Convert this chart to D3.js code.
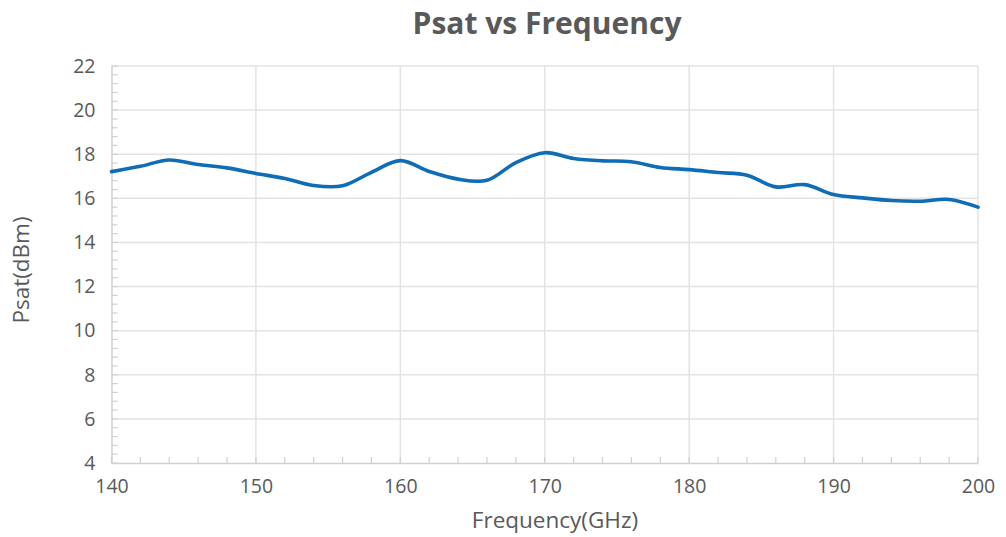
<!DOCTYPE html>
<html><head><meta charset="utf-8">
<script src="https://cdn.jsdelivr.net/npm/d3@7"></script>
<style>body{margin:0;background:#fff}svg{display:block}</style>
</head><body>
<svg id="c" width="1006" height="537"></svg>
<script>
const freqs = [140,142,144,146,148,150,152,154,156,158,160,162,164,166,168,170,172,174,176,178,180,182,184,186,188,190,192,194,196,198,200];
const psat  = [17.21,17.45,17.74,17.53,17.38,17.13,16.90,16.58,16.57,17.18,17.71,17.22,16.87,16.82,17.62,18.07,17.81,17.70,17.66,17.40,17.30,17.17,17.05,16.52,16.62,16.17,16.02,15.90,15.87,15.95,15.60];
const xTicks = [140,150,160,170,180,190,200];
const yTicks = [4,6,8,10,12,14,16,18,20,22];
const title = "Psat vs Frequency";
const xTitle = "Frequency(GHz)";
const yTitle = "Psat(dBm)";

const svg = d3.select("#c");
const L = 111.5, R = 978, T = 66, B = 463;
const x = d3.scaleLinear().domain([140,200]).range([L,R]);
const y = d3.scaleLinear().domain([4,22]).range([B,T]);
const font = "'Open Sans', sans-serif";
const txt = "#595959";

// gridlines
const g = svg.append("g");
g.selectAll("line.h").data(yTicks.filter(d=>d>4)).join("line")
  .attr("x1",L).attr("x2",R).attr("y1",d=>y(d)).attr("y2",d=>y(d))
  .attr("stroke","#e3e3e3").attr("stroke-width",1.5);
g.selectAll("line.v").data(xTicks.filter(d=>d>140)).join("line")
  .attr("x1",d=>x(d)).attr("x2",d=>x(d)).attr("y1",T).attr("y2",B)
  .attr("stroke","#e3e3e3").attr("stroke-width",1.5);

// axes
const yAxis = svg.append("g").attr("transform",`translate(${L},0)`)
  .call(d3.axisLeft(y).tickValues(yTicks).tickSize(0).tickPadding(16).tickFormat(d3.format("d")));
const xAxis = svg.append("g").attr("transform",`translate(0,${B})`)
  .call(d3.axisBottom(x).tickValues(xTicks).tickSize(0).tickPadding(16).tickFormat(d3.format("d")));
[yAxis,xAxis].forEach(a=>{
  a.select(".domain").attr("stroke","#d0d0d0").attr("stroke-width",1.5);
  a.selectAll("text").attr("fill",txt).style("font-family",font).style("font-size","19.5px");
});

// minor ticks
const yMinor = d3.range(4,22.001,0.4);
svg.append("g").selectAll("line").data(yMinor).join("line")
  .attr("x1",L).attr("x2",L+6).attr("y1",d=>y(d)).attr("y2",d=>y(d))
  .attr("stroke","#d0d0d0").attr("stroke-width",1.2);
const xMinor = d3.range(140,200.001,2);
svg.append("g").selectAll("line").data(xMinor).join("line")
  .attr("x1",d=>x(d)).attr("x2",d=>x(d)).attr("y1",B).attr("y2",B-6)
  .attr("stroke","#d0d0d0").attr("stroke-width",1.2);

// line
const data = freqs.map((f,i)=>[f,psat[i]]);
svg.append("path").datum(data)
  .attr("fill","none").attr("stroke","#0f6cb6").attr("stroke-width",3.6)
  .attr("stroke-linejoin","round").attr("stroke-linecap","round")
  .attr("d", d3.line().x(d=>x(d[0])).y(d=>y(d[1])).curve(d3.curveCatmullRom.alpha(0.5)));

// titles
svg.append("text").attr("x",547).attr("y",34).attr("text-anchor","middle")
  .attr("fill",txt).style("font-family",font).style("font-size","30px").style("font-weight","bold").text(title);
svg.append("text").attr("x",555).attr("y",528).attr("text-anchor","middle")
  .attr("fill",txt).style("font-family",font).style("font-size","22.5px").text(xTitle);
svg.append("text").attr("transform","translate(29,270) rotate(-90)").attr("text-anchor","middle")
  .attr("fill",txt).style("font-family",font).style("font-size","22.5px").text(yTitle);
</script>
</body></html>
